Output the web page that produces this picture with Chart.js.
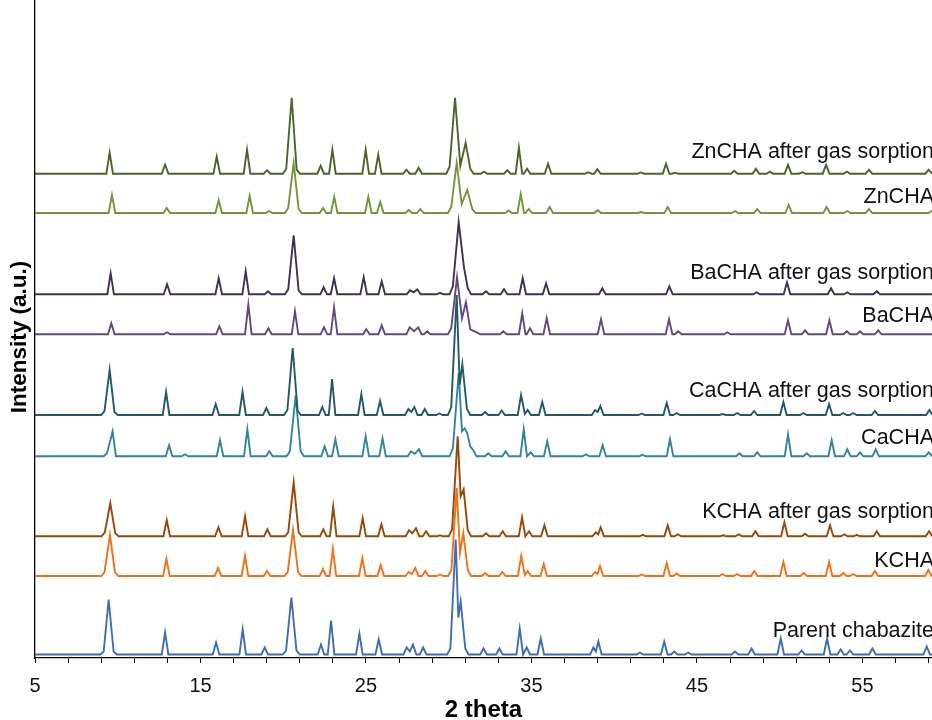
<!DOCTYPE html>
<html>
<head>
<meta charset="utf-8">
<script src="https://cdn.jsdelivr.net/npm/chart.js@4.4.1/dist/chart.umd.min.js"></script>
<style>
  html, body { margin: 0; padding: 0; background: #fff; }
  #xrd { display: block; }
</style>
</head>
<body>
<canvas id="xrd" width="932" height="720"></canvas>
<script>
// x range of the pattern (2 theta, degrees)
const twoThetaMin = 5;
const twoThetaMax = 59.2;
const majorTicks = [5, 15, 25, 35, 45, 55];

const seriesNames = [
    'ZnCHA after gas sorption', 'ZnCHA',
    'BaCHA after gas sorption', 'BaCHA',
    'CaCHA after gas sorption', 'CaCHA',
    'KCHA after gas sorption', 'KCHA',
    'Parent chabazite'
];
// vertical offset of each pattern (a.u.)
const baselines = [484.3, 445, 363.7, 323.7, 243, 201.7, 121.7, 82, 3.5];

// peak lists: [2 theta, intensity above baseline]
const znAfter = [[9.51,21],[12.86,9],[15.98,17],[17.81,24],[19.02,3.5],[20.18,5],[20.51,76],[20.81,4],[22.26,8],[22.97,24],
    [24.98,24],[25.74,19],[27.44,4],[28.18,6],[30.05,7],[30.38,76],[30.7,8],[31.02,31],[31.3,5],[32.13,2],[33.54,3.5],
    [34.24,26],[34.73,5],[36.0,10],[38.43,1.5],[38.98,4.5],[41.6,1.3],[43.13,10],[43.67,1],[47.25,3],[48.56,5],[49.4,2],
    [50.5,9],[51.36,1.5],[52.8,9],[54.06,2],[55.39,4],[59.0,4]];
const zn = [[9.65,18],[12.96,5],[16.1,13],[17.97,17],[19.14,2],[20.3,5],[20.63,50],[20.93,4],[22.4,5],[23.08,16],
    [25.14,16],[25.86,11],[27.58,3],[28.28,4],[30.15,6],[30.48,50],[30.78,9],[31.12,23],[31.42,4],[33.62,2.5],[34.35,19],
    [34.83,4],[36.1,6],[39.0,3],[41.63,1],[43.23,6],[47.3,2],[48.64,4],[50.54,8],[52.83,6],[54.08,2],[55.39,4],[59.18,2]];
const baAfter = [[9.57,21],[12.98,10],[16.1,16],[17.73,23],[19.08,3],[20.3,5],[20.63,59],[20.93,4],[22.44,7],[23.07,16],
    [24.86,17],[25.95,13],[27.66,4],[27.88,2],[28.1,5],[29.47,1.5],[30.25,8],[30.6,72],[30.92,27],[31.15,6],[32.25,3],
    [33.34,5],[34.47,16],[35.88,11],[39.28,6],[43.33,8],[48.6,2],[50.44,12],[53.1,6],[54.08,2],[55.86,3]];
const ba = [[9.61,11],[12.98,2],[16.14,8],[17.89,30],[19.1,6],[20.71,23],[22.46,7],[23.07,27],[25.02,5],[25.95,9],
    [27.64,7],[27.9,3],[28.16,7],[28.7,3],[30.15,6],[30.5,57],[30.8,16],[31.04,32],[31.3,5],[31.69,2],[33.3,3],[34.44,21],
    [34.91,6],[35.92,16],[39.2,15],[43.31,15],[43.87,3],[46.83,2],[50.5,14],[51.53,4],[53.0,14],[54.05,3],[54.85,3],[55.95,4]];
const caAfter = [[9.2,4],[9.51,45],[9.8,3],[12.92,23],[15.92,11],[17.54,23],[18.98,7],[20.25,5],[20.57,67],[20.87,4],
    [22.36,8],[22.95,36],[24.72,21],[25.85,14],[27.56,6],[27.74,3],[27.92,8],[28.55,6],[29.43,1.5],[30.15,8],[30.48,120],
    [30.66,30],[30.82,51],[31.1,6],[32.19,3],[33.2,4.5],[34.37,20],[34.6,1],[34.77,5],[35.65,13],[38.84,5],[39.0,3],[39.16,9],
    [41.66,1.5],[43.17,12],[43.77,2],[46.55,1],[47.43,2],[48.45,4],[50.22,13],[51.43,2],[52.98,11],[53.84,2],[54.44,2],
    [55.75,4],[59.04,5]];
const ca = [[9.35,3],[9.69,25],[13.1,11],[14.06,2],[16.18,16],[17.83,27],[19.16,5],[20.4,5],[20.75,61],[21.05,5],[22.5,10],
    [23.15,17],[24.98,20],[26.0,18],[27.72,5],[27.95,2.5],[28.2,7],[30.25,8],[30.6,83],[30.8,25],[30.96,28],[31.1,24],[31.3,10],
    [31.48,6],[32.39,3],[33.44,5],[34.53,27],[34.95,4],[35.95,15],[38.29,2],[39.3,11],[41.7,1.5],[43.37,17],[47.56,3],
    [48.64,4],[50.5,22],[51.63,3],[53.14,16],[54.08,7],[54.85,4],[55.8,7],[59.0,4]];
const kAfter = [[9.22,4],[9.55,33],[9.85,3],[12.96,16],[16.08,9],[17.69,20],[19.04,7],[20.3,4],[20.63,54],[20.93,4],
    [22.42,7],[23.02,30],[24.8,18],[25.93,12],[27.6,6],[27.8,3],[28.02,8],[28.63,5],[29.47,1],[30.2,7],[30.54,100],[30.72,40],
    [30.9,47],[31.15,6],[32.25,3],[33.26,5],[34.43,19],[34.85,5],[35.78,11],[38.88,4],[39.03,2],[39.18,9],[41.72,1.5],
    [43.23,11],[43.84,2],[46.59,1],[47.52,2],[48.53,5],[50.28,14],[51.53,2.5],[53.04,11],[53.9,2],[54.65,1.5],[55.86,5],[59.02,5]];
const k = [[9.2,4],[9.53,41],[9.83,4],[12.94,17],[16.06,8],[17.69,20],[19.02,5],[20.27,4],[20.59,46],[20.9,4],[22.4,7],
    [23.0,27],[24.78,18],[25.89,11],[27.58,4],[27.78,2],[27.98,8],[28.58,5],[29.47,1.5],[30.16,6],[30.48,88],[30.68,23],
    [30.88,43],[31.15,6],[32.2,3],[33.24,4],[34.38,20],[34.6,1],[34.77,5],[35.74,12],[38.84,4],[38.99,2],[39.14,10],[41.66,1.5],
    [43.17,13],[43.77,2.5],[46.55,2],[47.43,2],[48.46,5],[50.22,14],[51.45,3],[52.98,14],[53.84,3],[54.44,2],[55.75,5],[58.98,6]];
const parent = [[9.15,3],[9.45,55],[9.75,3],[12.86,22],[15.94,12],[17.55,25],[18.88,7],[20.17,4],[20.49,57],[20.8,4],
    [22.28,10],[22.89,34],[24.6,21],[25.77,15],[27.46,7],[27.65,3],[27.84,10],[28.45,7],[30.1,6],[30.42,115],[30.58,37],
    [30.72,53],[31.0,6],[32.1,6],[33.06,6],[34.29,26],[34.71,7],[35.56,16],[38.74,7],[38.89,3],[39.04,13],[41.55,2],
    [43.02,13],[43.63,3],[44.47,2],[47.3,3],[48.3,6],[50.06,16],[51.32,4],[52.86,16],[53.68,5],[54.24,4],[55.6,6],[58.88,8]];

const peakLists = [znAfter, zn, baAfter, ba, caAfter, ca, kAfter, k, parent];
const colours = ['#4F6228', '#77933C', '#403152', '#604A7B', '#215968', '#31859C', '#984807', '#EE7219', '#3F6DB4'];

// turn a peak list into line vertices sitting on the pattern's baseline
function buildTrace(peaks, base) {
    const hw = 0.2;
    let pts = [{x: twoThetaMin, y: base}];
    for (let i = 0; i < peaks.length; i++) {
        let x = peaks[i][0], h = peaks[i][1];
        if (i == 0 || x - peaks[i-1][0] > 2*hw) pts.push({x: x - hw, y: base});
        pts.push({x: x, y: base + h});
        if (i == peaks.length-1 || peaks[i+1][0] - x > 2*hw) pts.push({x: x + hw, y: base});
    }
    pts.push({x: twoThetaMax + 1, y: base});
    return pts;
}

// series names at the right end + rotated y title
const labelPlugin = {
    id: 'seriesLabels',
    afterDatasetsDraw(chart, args, opts) {
        const c = chart.ctx;
        const xs = chart.scales.x, ys = chart.scales.y;
        c.save();
        c.font = '21.5px "Liberation Sans", Arial, sans-serif';
        c.fillStyle = '#111';
        c.textAlign = 'right';
        c.textBaseline = 'alphabetic';
        seriesNames.forEach((name, i) => {
            c.fillText(name, xs.getPixelForValue(twoThetaMax) + 2, ys.getPixelForValue(baselines[i] + opts.lift[i]));
        });
        // y axis title
        c.translate(20, (ys.top + ys.bottom) / 2 + 8);
        c.rotate(-Math.PI / 2);
        c.font = 'bold 22.5px "Liberation Sans", Arial, sans-serif';
        c.fillStyle = '#000';
        c.textAlign = 'center';
        c.textBaseline = 'middle';
        c.fillText('Intensity (a.u.)', 0, 0);
        c.restore();
    }
};

const ctx = document.getElementById('xrd');
let chr = new Chart(ctx, {
    type: 'line',
    data: {
        datasets: seriesNames.map((name, i) => ({
            label: name,
            data: buildTrace(peakLists[i], baselines[i]),
            borderColor: colours[i],
            backgroundColor: colours[i],
            borderWidth: 1.9,
            pointRadius: 0,
            tension: 0,
            fill: false
        }))
    },
    options: {
        responsive: false,
        animation: false,
        devicePixelRatio: 1,
        layout: { padding: 0 },
        plugins: {
            legend: { display: false },
            tooltip: { enabled: false },
            seriesLabels: { lift: [16, 10, 15, 12, 18, 12, 18, 9, 18] }
        },
        scales: {
            x: {
                type: 'linear',
                min: twoThetaMin,
                max: twoThetaMax,
                afterBuildTicks: (s) => {
                    let t = [];
                    for (let v = twoThetaMin; v <= twoThetaMax; v += 2) t.push({value: v});
                    s.ticks = t;
                },
                afterFit: (s) => { s.height = 62; s.paddingLeft = 0; s.paddingRight = 0; },
                ticks: {
                    autoSkip: false,
                    maxRotation: 0,
                    padding: 11,
                    color: '#111',
                    font: { family: '"Liberation Sans", Arial', size: 20 },
                    callback: (v) => majorTicks.includes(v) ? String(v) : ''
                },
                grid: { drawOnChartArea: false, drawTicks: true, tickLength: 5, color: '#000' },
                border: { display: true, color: '#000', width: 1.3 },
                title: {
                    display: true,
                    text: '2 theta',
                    color: '#000',
                    padding: { top: 0, bottom: -5 },
                    font: { family: '"Liberation Sans", Arial', size: 24, weight: 'bold' }
                }
            },
            y: {
                min: 0,
                max: 658,
                afterFit: (s) => { s.width = 35; },
                ticks: { display: false },
                grid: { display: false },
                border: { display: true, color: '#000', width: 1.3 },
                title: { display: false }
            }
        }
    },
    plugins: [labelPlugin]
});
</script>
</body>
</html>
